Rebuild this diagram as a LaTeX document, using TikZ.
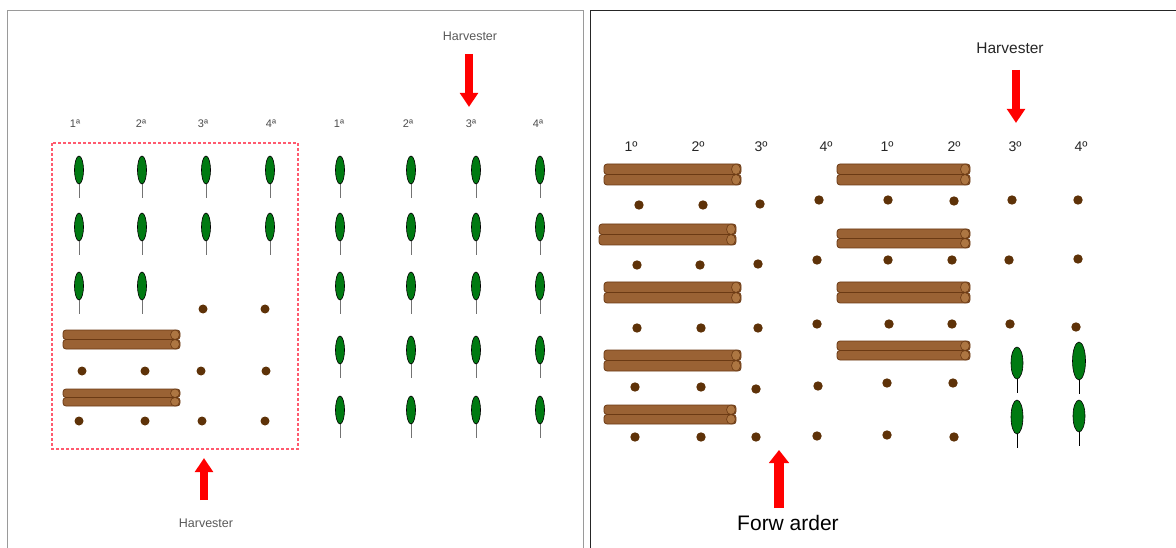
\documentclass[tikz,border=0pt]{standalone}
\usepackage{fontspec}
\setmainfont{Liberation Sans}
\usepackage{xcolor}
\usetikzlibrary{positioning, arrows.meta}
\definecolor{leafGreen}{HTML}{007A12}
\definecolor{logBrown}{HTML}{9A6234}
\definecolor{logEdge}{HTML}{6B3A14}
\definecolor{logEnd}{HTML}{AD7642}
\definecolor{stumpBrown}{HTML}{5E3208}
\definecolor{arrowRed}{HTML}{FF0000}
\definecolor{cutPink}{HTML}{FF5A6E}
\definecolor{frameGrey}{HTML}{9A9A9A}

\begin{document}
\begin{tikzpicture}[x=1pt, y=-1pt, font=\small,
  colLabelL/.style={font=\fontsize{11}{13}\selectfont, text=black!70, inner sep=0pt},
  colLabelR/.style={font=\fontsize{14}{16}\selectfont, text=black!85, inner sep=0pt},
  machine/.style={inner sep=0pt},
  moveArrow/.style={draw=arrowRed, line width=8.5pt, -{Triangle[width=17.5pt, length=14pt]}},
  stump/.style={fill=stumpBrown},
  pics/logpile/.style n args={2}{code={
    \foreach \k in {0,1} {
      \draw[fill=logBrown, draw=logEdge, line width=0.8pt, rounded corners=3pt]
        (0,\k*#2) rectangle (#1,\k*#2+#2);
      \draw[fill=logEnd, draw=logEdge, line width=0.6pt]
        (#1-5,\k*#2+#2/2) ellipse [x radius=4.5, y radius=#2/2];
    }
  }},
  pics/tree/.style n args={3}{code={
    \draw[#3, line width=0.7pt] (0,0) -- (0,#2+14);
    \draw[fill=leafGreen, line width=0.6pt] (0,0) ellipse [x radius=#1, y radius=#2];
  }},
]
\useasboundingbox (0,0) rectangle (1176,548);

% frames of the two panels
\draw[frameGrey, line width=0.8pt] (7.5,548) -- (7.5,10.5) -- (583.5,10.5) -- (583.5,548);
\draw[black!85, line width=0.8pt] (590.5,548) -- (590.5,10.5) -- (1176,10.5);

% ---- before: harvester felling ----
\foreach \x/\t [count=\i] in {75/1ª, 141/2ª, 203/3ª, 271/4ª, 339/1ª, 408/2ª, 471/3ª, 538/4ª}
  \node[colLabelL] (rowL\i) at (\x,124) {\t};

\draw[cutPink, line width=1.1pt, dash pattern=on 3pt off 2pt] (52,143) rectangle (298,449);

\foreach \x/\y in {79/170, 79/227, 79/286, 142/170, 142/227, 142/286,
                   206/170, 206/227, 270/170, 270/227}
  \pic at (\x,\y) {tree={4.5}{14}{black!55}};
\foreach \x in {340, 411, 476, 540}
  \foreach \y in {170, 227, 286, 350, 410}
    \pic at (\x,\y) {tree={4.5}{14}{black!55}};

\pic at (63,330) {logpile={117}{9.5}};
\pic at (63,389) {logpile={117}{8.5}};
\foreach \p in {(203,309), (265,309), (82,371), (145,371), (201,371), (266,371),
                (79,421), (145,421), (202,421), (265,421)}
  \fill[stump] \p circle (4.5);

\node[machine, font=\fontsize{12.5}{14}\selectfont, text=black!65] (harvTopL) at (470,36) {Harvester};
\coordinate (harvTopLtail) at (469,54);
\coordinate (harvTopLtip) at (469,107);
\draw[moveArrow] (harvTopLtail) -- (harvTopLtip);

\node[machine, font=\fontsize{12.5}{14}\selectfont, text=black!65] (harvBotL) at (206,523) {Harvester};
\coordinate (harvBotLtail) at (204,500);
\coordinate (harvBotLtip) at (204,458);
\draw[moveArrow] (harvBotLtail) -- (harvBotLtip);

% ---- after: forwarder extraction ----
\foreach \x/\t [count=\i] in {631/1º, 698/2º, 761/3º, 826/4º, 887/1º, 954/2º, 1015/3º, 1081/4º}
  \node[colLabelR] (rowR\i) at (\x,147) {\t};

\pic at (604,164) {logpile={137}{10.5}};
\pic at (599,224) {logpile={137}{10.5}};
\pic at (604,282) {logpile={137}{10.5}};
\pic at (604,350) {logpile={137}{10.5}};
\pic at (604,405) {logpile={132}{9.5}};
\pic at (837,164) {logpile={133}{10.5}};
\pic at (837,229) {logpile={133}{9.5}};
\pic at (837,282) {logpile={133}{10.5}};
\pic at (837,341) {logpile={133}{9.5}};

\foreach \p in {(639,205), (703,205), (760,204), (819,200), (888,200), (954,201), (1012,200), (1078,200),
                (637,265), (700,265), (758,264), (817,260), (888,260), (952,260), (1009,260), (1078,259),
                (637,328), (701,328), (758,328), (817,324), (889,324), (952,324), (1010,324), (1076,327),
                (635,387), (701,387), (756,389), (818,386), (887,383), (953,383),
                (635,437), (701,437), (756,437), (817,436), (887,435), (954,437)}
  \fill[stump] \p circle (4.7);

\pic at (1017,363) {tree={6}{16}{black}};
\pic at (1079,361) {tree={6.5}{19}{black}};
\pic at (1017,417) {tree={6}{17}{black}};
\pic at (1079,416) {tree={6}{16}{black}};

\node[machine, font=\fontsize{15.5}{18}\selectfont, text=black!85] (harvTopR) at (1010,48) {Harvester};
\coordinate (harvTopRtail) at (1016,70);
\coordinate (harvTopRtip) at (1016,123);
\draw[moveArrow] (harvTopRtail) -- (harvTopRtip);

\node[machine, font=\fontsize{21}{24}\selectfont] (fwd) at (788,523) {Forw arder};
\coordinate (fwdTail) at (779,508);
\coordinate (fwdTip) at (779,450);
\draw[moveArrow, line width=9.5pt, -{Triangle[width=19.5pt, length=13pt]}] (fwdTail) -- (fwdTip);
\end{tikzpicture}
\end{document}
